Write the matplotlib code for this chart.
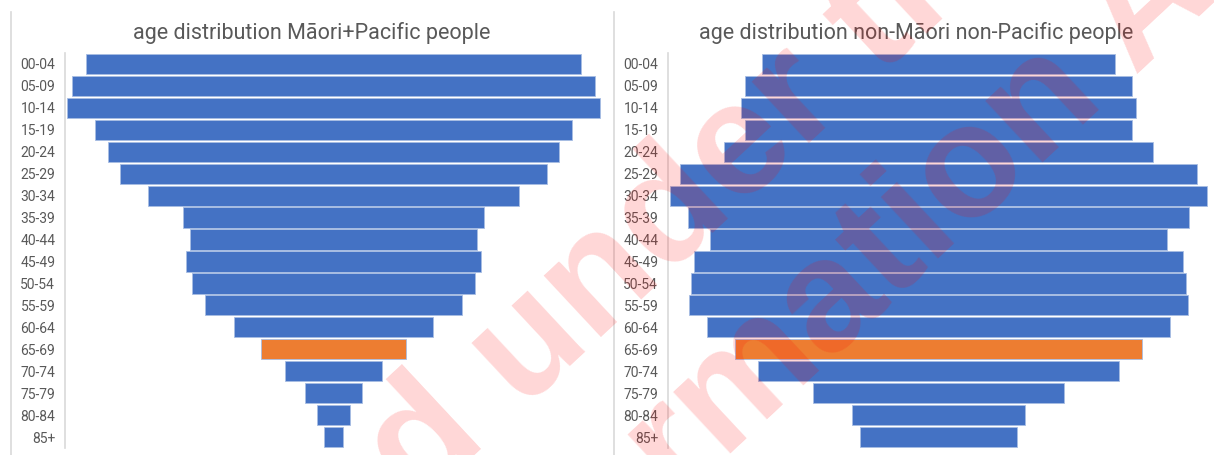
import matplotlib
matplotlib.use("Agg")
import matplotlib.pyplot as plt
from matplotlib.lines import Line2D
from matplotlib.font_manager import FontProperties
import numpy as np

# age groups, top to bottom
age_groups = ["00-04", "05-09", "10-14", "15-19", "20-24", "25-29", "30-34",
              "35-39", "40-44", "45-49", "50-54", "55-59", "60-64", "65-69",
              "70-74", "75-79", "80-84", "85+"]

# share of population in each age group (%)
maori_pacific = [9.43, 9.96, 10.17, 9.08, 8.59, 8.13, 7.05, 5.72, 5.45,
                 5.63, 5.40, 4.90, 3.80, 2.76, 1.86, 1.10, 0.61, 0.36]
non_maori_pacific = [4.87, 5.34, 5.44, 5.34, 5.90, 7.13, 7.41, 6.89, 6.30,
                     6.74, 6.83, 6.87, 6.37, 5.61, 4.97, 3.46, 2.37, 2.16]

highlight = "65-69"
titles = ["age distribution Māori+Pacific people",
          "age distribution non-Māori non-Pacific people"]

watermark_lines = ["Released under the", "Official Information Act"]

blue = "#4472C4"
orange = "#ED7D31"
grey = "#595959"
axis_grey = "#D9D9D9"

W, H = 1214, 455
fig = plt.figure(figsize=(W / 100, H / 100), dpi=100)


def px_axes(x0, x1, y0, y1):
    return fig.add_axes([x0 / W, 1 - y1 / H, (x1 - x0) / W, (y1 - y0) / H])


def pyramid(ax, values):
    vals = np.array(values)
    y = np.arange(len(age_groups))
    colors = [orange if g == highlight else blue for g in age_groups]
    ax.barh(y, vals, left=-vals / 2, height=0.92, color=colors,
            edgecolor="#A8BDE3", linewidth=0.6)
    half = vals.max() / 2 * 1.006
    ax.set_xlim(-half, half)
    ax.set_ylim(len(age_groups) - 0.5, -0.5)
    ax.set_yticks(y)
    ax.set_yticklabels(age_groups, fontsize=10, color=grey, family="Roboto")
    ax.tick_params(axis="y", length=0, pad=7)
    ax.set_xticks([])
    for s in ["top", "right", "bottom"]:
        ax.spines[s].set_visible(False)
    ax.spines["left"].set_color(axis_grey)
    ax.spines["left"].set_linewidth(1.2)


ax1 = px_axes(65, 602, 53, 448)
pyramid(ax1, maori_pacific)
ax2 = px_axes(668, 1209, 53, 448)
pyramid(ax2, non_maori_pacific)

fig.text(311.5 / W, 1 - 33 / H, titles[0], ha="center", va="center",
         fontsize=15.5, color=grey, family="Roboto")
fig.text(916 / W, 1 - 33 / H, titles[1], ha="center", va="center",
         fontsize=15.5, color=grey, family="Roboto")

# chart-area borders
for x in (11, 614):
    fig.add_artist(Line2D([x / W, x / W], [0, 1 - 12 / H], color=axis_grey,
                          linewidth=1.2, transform=fig.transFigure))

# diagonal watermark
renderer = fig.canvas.get_renderer()
size_px = 160
angle = 43
prop = FontProperties(family="Liberation Sans", weight="bold",
                      size=size_px * 72 / 100)
d = np.array([np.cos(np.radians(angle)), -np.sin(np.radians(angle))])
up = np.array([-np.sin(np.radians(angle)), -np.cos(np.radians(angle))])


def watermark(line, idx, centre):
    w_to = renderer.get_text_width_height_descent(line[:idx + 1], prop, ismath=False)[0]
    w_ch = renderer.get_text_width_height_descent(line[idx], prop, ismath=False)[0]
    along = w_to - w_ch / 2
    start = np.array(centre) - along * d - 0.26 * size_px * up
    fig.text(start[0] / W, 1 - start[1] / H, line, rotation=angle,
             rotation_mode="anchor", ha="left", va="baseline",
             fontproperties=prop, color="red", alpha=0.16, zorder=10)


watermark(watermark_lines[0], 9, (530, 347))
watermark(watermark_lines[1], 15, (831, 303))

fig.savefig("out.png", dpi=100)
